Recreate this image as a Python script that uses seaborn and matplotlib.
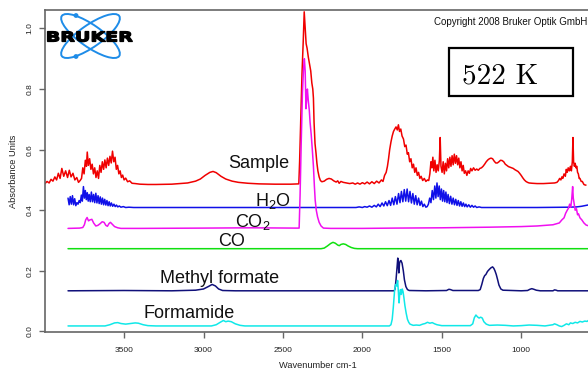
import numpy as np
import pandas as pd
import matplotlib
matplotlib.use("Agg")
import matplotlib.pyplot as plt
import seaborn as sns
from matplotlib.patches import Ellipse, Rectangle, Circle, PathPatch
from matplotlib.textpath import TextPath
from matplotlib.font_manager import FontProperties
from matplotlib.transforms import Affine2D

# ---------------- data (wavenumber cm-1, absorbance) ----------------
SAMPLE = [
    (3998, 0.488), (3985, 0.495), (3972, 0.490), (3960, 0.502), (3948, 0.496), (3936, 0.510),
    (3925, 0.500), (3914, 0.522), (3903, 0.505), (3892, 0.538), (3880, 0.512), (3868, 0.530),
    (3856, 0.508), (3845, 0.532), (3834, 0.510), (3822, 0.522), (3810, 0.500), (3798, 0.508),
    (3787, 0.492), (3777, 0.498), (3768, 0.505), (3760, 0.540), (3752, 0.520), (3744, 0.565),
    (3737, 0.545), (3732, 0.592), (3725, 0.548), (3717, 0.570), (3709, 0.535), (3701, 0.552),
    (3693, 0.520), (3685, 0.540), (3677, 0.508), (3669, 0.530), (3661, 0.505), (3653, 0.548),
    (3645, 0.525), (3637, 0.560), (3629, 0.535), (3621, 0.566), (3613, 0.540), (3605, 0.572),
    (3597, 0.548), (3589, 0.578), (3581, 0.556), (3573, 0.595), (3565, 0.560), (3557, 0.575),
    (3549, 0.535), (3541, 0.548), (3533, 0.520), (3525, 0.530), (3517, 0.508), (3509, 0.516),
    (3500, 0.500), (3490, 0.506), (3478, 0.494), (3465, 0.497), (3450, 0.489), (3430, 0.488),
    (3400, 0.486), (3350, 0.485), (3300, 0.485), (3200, 0.486), (3100, 0.490), (3050, 0.496),
    (3020, 0.503), (2990, 0.515), (2960, 0.525), (2940, 0.528), (2920, 0.524), (2890, 0.512),
    (2860, 0.503), (2820, 0.496), (2780, 0.492), (2720, 0.489), (2650, 0.487), (2550, 0.486),
    (2450, 0.486), (2400, 0.487), (2395, 0.560), (2388, 0.700), (2380, 0.850), (2372, 0.960),
    (2366, 1.055), (2360, 1.000), (2354, 0.950), (2348, 0.935), (2340, 0.905), (2332, 0.880),
    (2325, 0.860), (2318, 0.820), (2312, 0.800), (2308, 0.770), (2304, 0.690), (2298, 0.620),
    (2292, 0.590), (2286, 0.555), (2280, 0.530), (2272, 0.510), (2264, 0.498), (2255, 0.494),
    (2240, 0.496), (2225, 0.502), (2210, 0.505), (2195, 0.503), (2180, 0.497), (2165, 0.493),
    (2155, 0.497), (2146, 0.489), (2135, 0.495), (2120, 0.492), (2100, 0.490), (2080, 0.488),
    (2060, 0.490), (2045, 0.486), (2030, 0.490), (2015, 0.486), (2000, 0.491), (1985, 0.487),
    (1970, 0.493), (1955, 0.487), (1940, 0.494), (1925, 0.488), (1910, 0.496), (1895, 0.490),
    (1880, 0.500), (1870, 0.495), (1860, 0.515), (1850, 0.525), (1842, 0.545), (1835, 0.570),
    (1828, 0.600), (1820, 0.625), (1812, 0.645), (1804, 0.660), (1796, 0.668), (1788, 0.675),
    (1780, 0.665), (1773, 0.682), (1766, 0.660), (1758, 0.668), (1750, 0.645), (1741, 0.635),
    (1733, 0.610), (1725, 0.615), (1717, 0.585), (1710, 0.590), (1702, 0.560), (1694, 0.570),
    (1686, 0.540), (1678, 0.552), (1670, 0.525), (1662, 0.540), (1654, 0.515), (1646, 0.525),
    (1638, 0.505), (1630, 0.512), (1620, 0.498), (1610, 0.505), (1600, 0.495), (1590, 0.500),
    (1582, 0.498), (1575, 0.520), (1568, 0.560), (1562, 0.540), (1556, 0.575), (1550, 0.530),
    (1543, 0.565), (1536, 0.525), (1529, 0.550), (1522, 0.530), (1515, 0.565), (1510, 0.640),
    (1505, 0.545), (1498, 0.525), (1491, 0.560), (1484, 0.520), (1477, 0.555), (1470, 0.530),
    (1463, 0.570), (1456, 0.540), (1449, 0.575), (1442, 0.545), (1435, 0.580), (1428, 0.550),
    (1421, 0.585), (1414, 0.555), (1407, 0.580), (1400, 0.550), (1393, 0.572), (1386, 0.540),
    (1379, 0.560), (1372, 0.530), (1365, 0.548), (1358, 0.522), (1350, 0.530), (1342, 0.515),
    (1334, 0.530), (1326, 0.522), (1318, 0.538), (1310, 0.530), (1300, 0.540), (1290, 0.532),
    (1280, 0.536), (1270, 0.532), (1260, 0.538), (1250, 0.540), (1240, 0.545), (1230, 0.552),
    (1220, 0.560), (1210, 0.566), (1200, 0.570), (1190, 0.572), (1180, 0.570), (1170, 0.562),
    (1160, 0.556), (1150, 0.556), (1140, 0.560), (1130, 0.565), (1120, 0.564), (1110, 0.560),
    (1100, 0.552), (1090, 0.548), (1080, 0.544), (1070, 0.542), (1060, 0.540), (1050, 0.538),
    (1040, 0.534), (1030, 0.531), (1020, 0.528), (1010, 0.522), (1000, 0.515), (990, 0.507),
    (980, 0.500), (970, 0.495), (960, 0.492), (950, 0.490), (930, 0.489), (900, 0.488),
    (860, 0.488), (820, 0.489), (790, 0.490), (775, 0.492), (765, 0.498), (758, 0.505),
    (750, 0.500), (744, 0.510), (738, 0.505), (730, 0.520), (722, 0.512), (716, 0.535),
    (710, 0.525), (704, 0.540), (697, 0.530), (690, 0.545), (684, 0.530), (678, 0.560),
    (674, 0.640), (670, 0.560), (665, 0.545), (660, 0.555), (655, 0.540), (650, 0.545),
    (645, 0.525), (640, 0.520), (635, 0.505), (630, 0.505), (622, 0.495), (615, 0.495),
    (605, 0.485), (596, 0.483), (592, 0.483),
]

H2O = [
    (3853, 0.440), (3846, 0.418), (3839, 0.445), (3832, 0.420), (3825, 0.448), (3818, 0.418),
    (3811, 0.438), (3804, 0.415), (3797, 0.425), (3790, 0.420), (3783, 0.432), (3776, 0.425),
    (3769, 0.450), (3763, 0.430), (3756, 0.478), (3750, 0.440), (3744, 0.465), (3738, 0.435),
    (3732, 0.458), (3726, 0.430), (3720, 0.452), (3713, 0.428), (3706, 0.460), (3699, 0.428),
    (3692, 0.452), (3685, 0.425), (3678, 0.456), (3671, 0.424), (3664, 0.448), (3657, 0.422),
    (3650, 0.444), (3643, 0.420), (3636, 0.440), (3629, 0.418), (3622, 0.436), (3615, 0.417),
    (3608, 0.432), (3601, 0.415), (3594, 0.428), (3587, 0.414), (3580, 0.424), (3572, 0.413),
    (3564, 0.420), (3556, 0.412), (3548, 0.417), (3540, 0.411), (3530, 0.414), (3520, 0.410),
    (3505, 0.412), (3490, 0.409), (3470, 0.410), (3440, 0.409), (3000, 0.409), (2400, 0.409),
    (2040, 0.409), (2020, 0.411), (2000, 0.409), (1985, 0.412), (1970, 0.410), (1955, 0.414),
    (1940, 0.410), (1925, 0.416), (1912, 0.411), (1900, 0.420), (1888, 0.412), (1876, 0.424),
    (1865, 0.414), (1854, 0.428), (1843, 0.415), (1832, 0.432), (1822, 0.416), (1812, 0.440),
    (1802, 0.418), (1792, 0.445), (1782, 0.420), (1772, 0.455), (1763, 0.425), (1754, 0.462),
    (1745, 0.428), (1736, 0.468), (1727, 0.430), (1718, 0.470), (1709, 0.428), (1700, 0.462),
    (1691, 0.424), (1682, 0.455), (1673, 0.420), (1664, 0.448), (1655, 0.418), (1646, 0.440),
    (1637, 0.416), (1628, 0.430), (1619, 0.412), (1610, 0.420), (1600, 0.410), (1592, 0.412),
    (1584, 0.420), (1576, 0.440), (1568, 0.425), (1560, 0.465), (1552, 0.435), (1544, 0.480),
    (1537, 0.440), (1530, 0.490), (1523, 0.445), (1516, 0.480), (1509, 0.435), (1502, 0.470),
    (1495, 0.430), (1488, 0.465), (1481, 0.428), (1474, 0.460), (1467, 0.425), (1460, 0.452),
    (1452, 0.422), (1444, 0.446), (1436, 0.420), (1428, 0.440), (1420, 0.418), (1412, 0.436),
    (1404, 0.416), (1396, 0.432), (1388, 0.414), (1380, 0.428), (1372, 0.413), (1364, 0.424),
    (1356, 0.412), (1348, 0.420), (1340, 0.411), (1330, 0.418), (1320, 0.410), (1310, 0.416),
    (1300, 0.410), (1290, 0.414), (1280, 0.409), (1265, 0.411), (1250, 0.409), (1100, 0.409),
    (900, 0.409), (700, 0.410), (650, 0.411), (620, 0.413), (600, 0.415), (572, 0.418),
]

CO2 = [
    (3853, 0.340), (3780, 0.341), (3760, 0.343), (3750, 0.352), (3742, 0.368), (3733, 0.376),
    (3724, 0.365), (3715, 0.368), (3703, 0.370), (3692, 0.358), (3678, 0.348), (3665, 0.350),
    (3650, 0.356), (3638, 0.362), (3626, 0.360), (3615, 0.350), (3605, 0.347), (3595, 0.356),
    (3586, 0.360), (3575, 0.354), (3560, 0.346), (3540, 0.342), (3520, 0.340), (3400, 0.340),
    (3000, 0.341), (2700, 0.342), (2420, 0.341), (2398, 0.341), (2392, 0.450), (2385, 0.620),
    (2377, 0.790), (2370, 0.870), (2365, 0.900), (2360, 0.860), (2355, 0.735), (2350, 0.770),
    (2346, 0.800), (2340, 0.760), (2334, 0.730), (2329, 0.690), (2322, 0.650), (2315, 0.600),
    (2308, 0.545), (2302, 0.480), (2297, 0.434), (2290, 0.400), (2282, 0.378), (2272, 0.360),
    (2260, 0.348), (2245, 0.341), (2200, 0.340), (2000, 0.340), (1800, 0.341), (1500, 0.342),
    (1200, 0.344), (1000, 0.346), (900, 0.348), (800, 0.352), (760, 0.358), (744, 0.368),
    (730, 0.375), (720, 0.390), (710, 0.400), (702, 0.407), (695, 0.420), (688, 0.410),
    (682, 0.435), (676, 0.478), (672, 0.440), (666, 0.420), (660, 0.400), (652, 0.405),
    (645, 0.385), (639, 0.388), (630, 0.375), (618, 0.368), (605, 0.358), (591, 0.351),
    (572, 0.348),
]

CO = [
    (3853, 0.273), (2260, 0.273), (2240, 0.275), (2220, 0.282), (2200, 0.290), (2185, 0.294),
    (2170, 0.291), (2155, 0.285), (2145, 0.283), (2135, 0.287), (2120, 0.289), (2105, 0.287),
    (2090, 0.282), (2070, 0.277), (2050, 0.274), (2030, 0.273), (572, 0.273),
]

METHYL_FORMATE = [
    (3853, 0.134), (3500, 0.135), (3200, 0.134), (3050, 0.136), (3000, 0.140), (2970, 0.148),
    (2946, 0.155), (2925, 0.150), (2905, 0.140), (2880, 0.135), (2800, 0.134), (1800, 0.134),
    (1794, 0.140), (1788, 0.170), (1781, 0.215), (1777, 0.242), (1773, 0.215), (1770, 0.193),
    (1766, 0.225), (1762, 0.232), (1757, 0.234), (1750, 0.225), (1742, 0.200), (1735, 0.170),
    (1726, 0.148), (1716, 0.138), (1705, 0.135), (1600, 0.134), (1470, 0.135), (1455, 0.139),
    (1445, 0.138), (1430, 0.135), (1270, 0.135), (1258, 0.138), (1248, 0.155), (1238, 0.175),
    (1230, 0.184), (1222, 0.188), (1212, 0.198), (1200, 0.205), (1190, 0.210), (1180, 0.213),
    (1172, 0.208), (1165, 0.200), (1157, 0.188), (1148, 0.170), (1140, 0.153), (1128, 0.140),
    (1115, 0.136), (1000, 0.134), (960, 0.135), (945, 0.139), (933, 0.141), (920, 0.139),
    (905, 0.136), (880, 0.134), (800, 0.134), (790, 0.137), (780, 0.136), (770, 0.134),
    (572, 0.134),
]

FORMAMIDE = [
    (3853, 0.018), (3620, 0.018), (3590, 0.022), (3560, 0.028), (3540, 0.029), (3520, 0.026),
    (3490, 0.024), (3460, 0.026), (3430, 0.028), (3410, 0.027), (3380, 0.022), (3350, 0.019),
    (3300, 0.018), (2950, 0.018), (2920, 0.022), (2895, 0.030), (2875, 0.036), (2860, 0.032),
    (2845, 0.034), (2825, 0.032), (2800, 0.025), (2770, 0.020), (2740, 0.018), (1830, 0.018),
    (1820, 0.022), (1812, 0.040), (1805, 0.080), (1797, 0.135), (1790, 0.155), (1783, 0.150),
    (1778, 0.168), (1773, 0.130), (1769, 0.094), (1765, 0.120), (1760, 0.138), (1755, 0.122),
    (1749, 0.140), (1744, 0.132), (1738, 0.110), (1732, 0.085), (1724, 0.060), (1716, 0.040),
    (1708, 0.030), (1700, 0.024), (1680, 0.020), (1660, 0.021), (1640, 0.020), (1620, 0.024),
    (1605, 0.026), (1590, 0.030), (1575, 0.027), (1560, 0.029), (1545, 0.025), (1530, 0.022),
    (1500, 0.019), (1400, 0.019), (1320, 0.019), (1305, 0.025), (1295, 0.045), (1285, 0.054),
    (1275, 0.048), (1265, 0.044), (1255, 0.047), (1245, 0.044), (1235, 0.032), (1220, 0.024),
    (1200, 0.020), (1150, 0.021), (1100, 0.020), (1050, 0.018), (1000, 0.019), (950, 0.021),
    (900, 0.020), (850, 0.018), (800, 0.022), (790, 0.025), (775, 0.022), (760, 0.018),
    (745, 0.016), (730, 0.020), (715, 0.025), (700, 0.022), (690, 0.028), (675, 0.026),
    (660, 0.030), (645, 0.028), (630, 0.033), (615, 0.031), (600, 0.034), (585, 0.033),
    (572, 0.038),
]

SERIES_NAMES = ["Sample", "H2O", "CO2", "CO", "Methyl formate", "Formamide"]
SERIES_DATA = [SAMPLE, H2O, CO2, CO, METHYL_FORMATE, FORMAMIDE]
SERIES_COLORS = ["#f00000", "#1010e8", "#f010f0", "#10e010", "#10107a", "#10e8e8"]
LABEL_TEXTS = ["Sample", "H$_2$O", "CO$_2$", "CO", "Methyl formate", "Formamide"]
LABEL_POS = [(2842, 0.538), (2675, 0.414), (2801, 0.343), (2908, 0.2805), (3273, 0.159), (3380, 0.0436)]

X_TICKS = [3500, 3000, 2500, 2000, 1500, 1000]
Y_TICKS = [0.0, 0.2, 0.4, 0.6, 0.8, 1.0]
X_LABEL = "Wavenumber cm-1"
Y_LABEL = "Absorbance Units"
TEMP_TEXT = "522 K"
COPYRIGHT = "Copyright 2008 Bruker Optik GmbH"

# ---------------- style ----------------
sns.set_style("ticks")
plt.rcParams["font.family"] = ["Liberation Sans", "DejaVu Sans"]
plt.rcParams["mathtext.fontset"] = "custom"
plt.rcParams["mathtext.rm"] = "Liberation Sans"
plt.rcParams["mathtext.it"] = "Liberation Sans"
plt.rcParams["mathtext.bf"] = "Liberation Sans:bold"
plt.rcParams["mathtext.default"] = "regular"

W, H = 588, 374
fig = plt.figure(figsize=(W / 100, H / 100), dpi=100)
fig.patch.set_facecolor("white")

L, R, T, B = 45, 589, 10, 332
ax = fig.add_axes([L / W, (H - B) / H, (R - L) / W, (B - T) / H])

frames = []
for name, data in zip(SERIES_NAMES, SERIES_DATA):
    arr = np.array(data, dtype=float)
    frames.append(pd.DataFrame({"wn": arr[:, 0], "abs": arr[:, 1], "series": name}))
df = pd.concat(frames, ignore_index=True)

for name, color in zip(SERIES_NAMES, SERIES_COLORS):
    sub = df[df["series"] == name]
    sns.lineplot(data=sub, x="wn", y="abs", ax=ax, color=color, lw=1.1,
                 sort=False, estimator=None, legend=False)

ax.set_xlim(3998, 573)
ax.set_ylim(-0.002, 1.061)
ax.set_xticks(X_TICKS)
ax.set_xticklabels([str(t) for t in X_TICKS])
ax.set_yticks(Y_TICKS)
ax.set_yticklabels([f"{t:.1f}" for t in Y_TICKS])
ax.set_xlabel("")
ax.set_ylabel("")

spine_col = "#666666"
for s in ["left", "bottom", "top"]:
    ax.spines[s].set_color(spine_col)
    ax.spines[s].set_linewidth(1.2)
ax.spines["right"].set_visible(False)
ax.tick_params(axis="both", direction="out", length=4.5, width=1.0, color=spine_col,
               labelsize=6, labelcolor="#222222")
ax.tick_params(axis="x", pad=6)
ax.tick_params(axis="y", pad=4, labelrotation=90)
for lab in ax.get_yticklabels():
    lab.set_va("center")

for txt, (x, y) in zip(LABEL_TEXTS, LABEL_POS):
    ax.text(x, y, txt, fontsize=13, ha="left", va="baseline", color="#111111")

# axis titles in pixel positions
fig.text(318 / W, 1 - 365 / H, X_LABEL, fontsize=6.7, ha="center", va="center", color="#222222")
fig.text(14 / W, 1 - 171.5 / H, Y_LABEL, fontsize=6.7, ha="center", va="center",
         rotation=90, color="#222222")

# ---------------- overlay: logo, copyright, temperature box ----------------
ov = fig.add_axes([0, 0, 1, 1], zorder=5)
ov.set_xlim(0, W)
ov.set_ylim(H, 0)
ov.axis("off")
ov.patch.set_alpha(0)

blue = "#1e8ce8"
for ang in (35, -35):
    ov.add_patch(Ellipse((90.5, 36), 70, 22, angle=ang, fill=False, ec=blue, lw=1.4))
for (cx, cy) in [(76, 15.5), (76, 56.5)]:
    ov.add_patch(Circle((cx, cy), 2.4, color=blue, lw=0))

tp = TextPath((0, 0), "BRUKER", size=1, prop=FontProperties(family="DejaVu Sans", weight="bold"))
ext = tp.get_extents()
sx = 85 / ext.width
sy = 10 / 0.73
trans = Affine2D().translate(-ext.x0, 0).scale(sx, -sy).translate(47.5, 41.5)
ov.add_patch(PathPatch(trans.transform_path(tp), fc="black", ec="black", lw=0.9))

ov.text(587, 22, COPYRIGHT, fontsize=7, ha="right", va="center", color="#111111")

ov.add_patch(Rectangle((449, 48), 124, 48, fill=False, ec="black", lw=1.6))
ov.text(500, 83, TEMP_TEXT, fontsize=21, family="cmr10", ha="center", va="baseline", color="black")

fig.savefig("out.png", dpi=100)
